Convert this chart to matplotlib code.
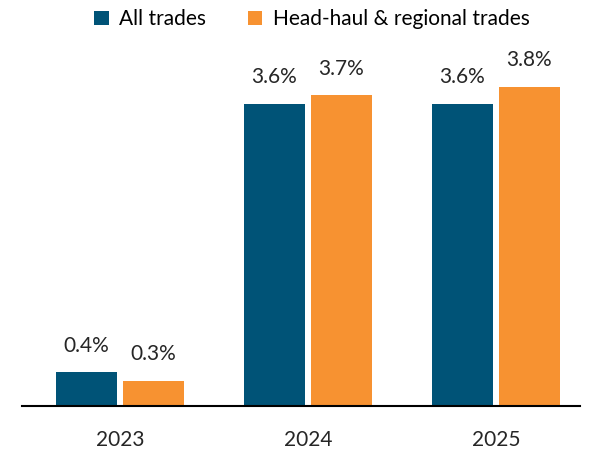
import matplotlib
matplotlib.use("Agg")
import matplotlib.pyplot as plt
import numpy as np

categories = ["2023", "2024", "2025"]
all_trades = [0.4, 3.6, 3.6]
head_haul = [0.3, 3.7, 3.8]
series_names = ["All trades", "Head-haul & regional trades"]
colors = ["#005377", "#F79231"]

plt.rcParams['font.family'] = ['Lato', 'DejaVu Sans']
FS = 15

fig = plt.figure(figsize=(5.91, 4.49), dpi=100)
ax = fig.add_axes([22/591, 43/449, 558/591, 361/449])

x = np.arange(len(categories))
w = 0.325
off = 0.178
b1 = ax.bar(x - off, all_trades, w, color=colors[0], label=series_names[0])
b2 = ax.bar(x + off, head_haul, w, color=colors[1], label=series_names[1])

for bars, vals in ((b1, all_trades), (b2, head_haul)):
    for r, v in zip(bars, vals):
        ax.text(r.get_x() + r.get_width()/2, v + 0.2, f"{v:.1f}%",
                ha='center', va='bottom', fontsize=FS, color='#262626')

ax.set_xlim(-0.521, 2.447)
ax.set_ylim(0, 4.3)
ax.set_xticks(x)
ax.set_xticklabels(categories, fontsize=FS, color='#262626')
ax.tick_params(axis='x', length=0, pad=17)
ax.set_yticks([])
for s in ['top', 'right', 'left']:
    ax.spines[s].set_visible(False)
ax.spines['bottom'].set_linewidth(1.5)
ax.spines['bottom'].set_color('black')

fig.legend(handles=[b1, b2], labels=series_names, loc='upper center',
           bbox_to_anchor=(312/591, 1.0), ncol=2, frameon=False,
           fontsize=FS, handlelength=0.7, handleheight=0.7,
           handletextpad=0.5, columnspacing=2.0, borderaxespad=0.05)

fig.savefig("out.png", dpi=100)
